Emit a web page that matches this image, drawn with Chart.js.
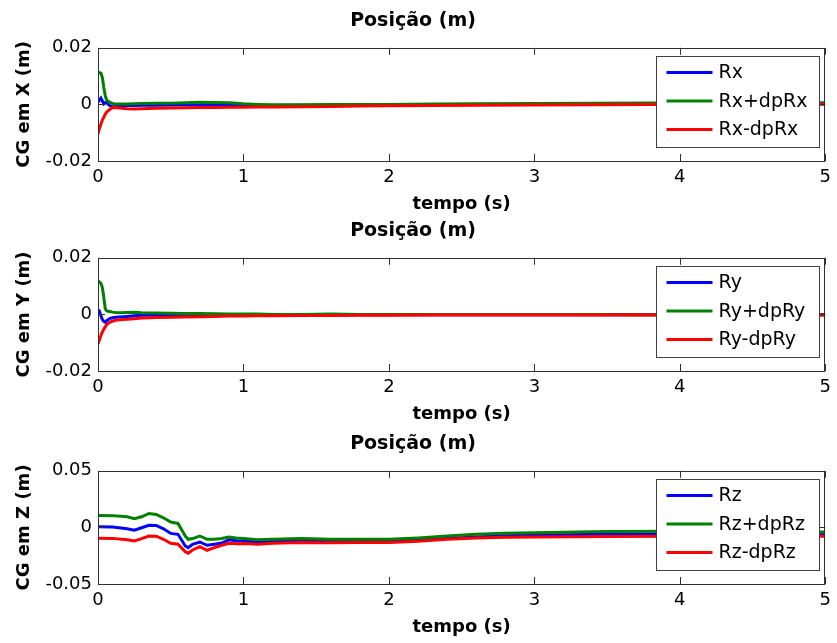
<!DOCTYPE html>
<html>
<head>
<meta charset="utf-8">
<script src="https://cdn.jsdelivr.net/npm/chart.js@4/dist/chart.umd.min.js"></script>
<style>
    body { margin: 0; background: #fff; }
    canvas { position: absolute; left: 0; }
</style>
</head>
<body>
<canvas id="chart-x" width="837" height="215" style="top:0px"></canvas>
<canvas id="chart-y" width="837" height="215" style="top:210px"></canvas>
<canvas id="chart-z" width="837" height="215" style="top:423px"></canvas>
<script>
// tempo (s)
const timeX = [0, 0.01, 0.02, 0.03, 0.04, 0.05, 0.06, 0.08, 0.1, 0.12, 0.15, 0.2, 0.25, 0.3, 0.4, 0.5, 0.6, 0.7, 0.8, 0.9, 1.0, 1.1, 1.2, 1.4, 1.6, 1.8, 2.0, 2.3, 2.6, 3.0, 3.4, 3.8, 4.2, 4.6, 5.0];
const rx = [0.0008, 0.0015, 0.0022, 0.0012, 0.0002, 0.0006, 0.0005, -0.0004, -0.0009, -0.0007, -0.0005, -0.0004, -0.0004, -0.0003, -0.0003, -0.0002, -0.0001, -0.0001, -0.0002, -0.0002, -0.0003, -0.0004, -0.0004, -0.0003, -0.0003, -0.0002, -0.0001, -0.0001, 0, 0, 0.0001, 0.0001, 0.0001, 0.0001, 0.0001];
const rxPlus = [0.0115, 0.0112, 0.011, 0.0095, 0.006, 0.003, 0.0015, 0.0008, 0.0003, 0.0001, 0.0001, 0.0001, 0.0002, 0.0003, 0.0004, 0.0004, 0.0006, 0.0008, 0.0007, 0.0006, 0.0002, 0, -0.0001, -0.0001, 0, 0, 0, 0.0001, 0.0002, 0.0003, 0.0004, 0.0005, 0.0005, 0.0005, 0.0006];
const rxMinus = [-0.0105, -0.0085, -0.007, -0.0055, -0.0045, -0.0035, -0.0027, -0.0018, -0.0012, -0.0011, -0.0013, -0.0015, -0.0016, -0.0015, -0.0014, -0.0013, -0.0012, -0.0011, -0.0011, -0.001, -0.001, -0.0009, -0.0009, -0.0008, -0.0007, -0.0006, -0.0005, -0.0004, -0.0003, -0.0002, -0.0001, 0, 0, 0, 0.0001];

const timeY = [0, 0.01, 0.02, 0.03, 0.04, 0.05, 0.06, 0.08, 0.1, 0.12, 0.15, 0.2, 0.25, 0.3, 0.4, 0.5, 0.6, 0.7, 0.8, 0.9, 1.0, 1.1, 1.2, 1.4, 1.6, 1.8, 2.0, 2.3, 2.6, 3.0, 3.4, 3.8, 4.2, 4.6, 5.0];
const ry = [0.0015, 0.0012, -0.0005, -0.0018, -0.0025, -0.0028, -0.0022, -0.0015, -0.0012, -0.001, -0.0009, -0.0007, -0.0005, -0.0003, -0.0002, -0.0002, -0.0001, -0.0001, 0, 0, 0, 0, 0, -0.0001, -0.0001, -0.0001, -0.0001, -0.0001, -0.0001, -0.0001, -0.0001, -0.0001, -0.0001, -0.0001, -0.0001];
const ryPlus = [0.0118, 0.0115, 0.011, 0.0095, 0.006, 0.002, 0.0012, 0.001, 0.0008, 0.0007, 0.0006, 0.0007, 0.0008, 0.0006, 0.0005, 0.0004, 0.0003, 0.0003, 0.0002, 0.0001, 0.0001, 0.0001, 0, 0, 0.0001, 0, 0, 0, 0, 0, 0, -0.0001, -0.0001, -0.0001, -0.0001];
const ryMinus = [-0.0105, -0.009, -0.0075, -0.0062, -0.0052, -0.0044, -0.0036, -0.0028, -0.0024, -0.0021, -0.0019, -0.0017, -0.0015, -0.0013, -0.0011, -0.001, -0.0009, -0.0008, -0.0007, -0.0006, -0.0006, -0.0005, -0.0005, -0.0004, -0.0004, -0.0003, -0.0003, -0.0002, -0.0002, -0.0002, -0.0002, -0.0002, -0.0002, -0.0002, -0.0002];

const timeZ = [0, 0.1, 0.2, 0.25, 0.3, 0.35, 0.4, 0.45, 0.5, 0.55, 0.6, 0.62, 0.65, 0.7, 0.75, 0.8, 0.85, 0.9, 0.95, 1.0, 1.1, 1.2, 1.4, 1.6, 1.8, 2.0, 2.2, 2.4, 2.6, 2.8, 3.0, 3.5, 4.0, 4.5, 5.0];
const rz = [0.0005, 0.0004, -0.0012, -0.0024, -0.0003, 0.0018, 0.0017, -0.0012, -0.0053, -0.0061, -0.0164, -0.0179, -0.0149, -0.0129, -0.0158, -0.0149, -0.0138, -0.011, -0.0118, -0.012, -0.013, -0.0122, -0.0117, -0.0118, -0.0117, -0.0117, -0.0105, -0.0097, -0.0085, -0.0073, -0.0068, -0.006, -0.0057, -0.0056, -0.0057];
const rzPlus = [0.0105, 0.0104, 0.0094, 0.0076, 0.0094, 0.0123, 0.0114, 0.0085, 0.0047, 0.0035, -0.0076, -0.0105, -0.0099, -0.0076, -0.0105, -0.0105, -0.0098, -0.0085, -0.0093, -0.0099, -0.011, -0.0104, -0.0099, -0.0105, -0.0104, -0.0105, -0.0093, -0.0076, -0.0061, -0.0052, -0.0048, -0.0036, -0.0034, -0.0038, -0.004];
const rzMinus = [-0.0096, -0.0097, -0.011, -0.012, -0.0099, -0.0076, -0.0078, -0.0105, -0.014, -0.0149, -0.0216, -0.0228, -0.0199, -0.017, -0.0202, -0.0178, -0.0158, -0.014, -0.0145, -0.0143, -0.0149, -0.014, -0.0134, -0.0135, -0.0133, -0.0134, -0.0123, -0.0105, -0.0093, -0.0088, -0.0085, -0.008, -0.0078, -0.0077, -0.0078];

const xTicks = [0, 1, 2, 3, 4, 5];
const yTicksXY = [-0.02, 0, 0.02];
const yTickLabelsXY = ["-0.02", "0", "0.02"];
const yTicksZ = [-0.05, 0, 0.05];
const yTickLabelsZ = ["-0.05", "0", "0.05"];

const colors = ["#0000ff", "#008000", "#ff0000"];
const font = "'DejaVu Sans', sans-serif";

const matlabBox = {
    id: "matlabBox",
    afterDatasetsDraw(chart) {
        const { ctx, chartArea: a, scales } = chart;
        ctx.save();
        ctx.strokeStyle = "#303030";
        ctx.lineWidth = 1;
        ctx.beginPath();
        scales.x.ticks.forEach((t) => {
            const px = Math.round(scales.x.getPixelForValue(t.value)) + 0.5;
            ctx.moveTo(px, a.bottom);
            ctx.lineTo(px, a.bottom - 7);
            ctx.moveTo(px, a.top);
            ctx.lineTo(px, a.top + 7);
        });
        scales.y.ticks.forEach((t) => {
            const py = Math.round(scales.y.getPixelForValue(t.value)) + 0.5;
            ctx.moveTo(a.left, py);
            ctx.lineTo(a.left + 7, py);
            ctx.moveTo(a.right, py);
            ctx.lineTo(a.right - 7, py);
        });
        ctx.stroke();
        ctx.strokeRect(Math.round(a.left) + 0.5, Math.round(a.top) + 0.5,
            Math.round(a.right - a.left) - 1, Math.round(a.bottom - a.top));

        // legend
        const w = 163, h = 91;
        const lx = Math.round(a.right) - 6 - w + 0.5;
        const ly = Math.round(a.top) + 8 + 0.5;
        ctx.fillStyle = "#fff";
        ctx.fillRect(lx, ly, w, h);
        ctx.strokeStyle = "#404040";
        ctx.strokeRect(lx, ly, w, h);
        ctx.font = "19px " + font;
        ctx.textBaseline = "middle";
        chart.data.datasets.forEach((ds, i) => {
            const y = ly + 16 + i * 28.5;
            ctx.strokeStyle = ds.borderColor;
            ctx.lineWidth = 3;
            ctx.beginPath();
            ctx.moveTo(lx + 10, y);
            ctx.lineTo(lx + 56, y);
            ctx.stroke();
            ctx.fillStyle = "#000";
            ctx.fillText(ds.label, lx + 62, y + 1);
        });
        ctx.restore();
    },
};

function makeChart(canvasId, time, series, names, yLabel, yTicks, yTickLabels) {
    const canvas = document.getElementById(canvasId);
    const lim = yTicks[yTicks.length - 1];

    return new Chart(canvas, {
        type: "line",
        data: {
            datasets: series.map((values, i) => ({
                label: names[i],
                data: time.map((t, j) => ({ x: t, y: values[j] })),
                borderColor: colors[i],
                borderWidth: 3,
                pointRadius: 0,
                tension: 0,
                order: 2 - i,
            })),
        },
        options: {
            responsive: false,
            animation: false,
            layout: { padding: { left: 0, right: 11, top: 0, bottom: 0 } },
            plugins: {
                legend: { display: false },
                tooltip: { enabled: false },
                title: {
                    display: true,
                    text: "Posição (m)",
                    color: "#000",
                    font: { family: font, size: 19, weight: "bold", lineHeight: 1.2 },
                    padding: { top: 10, bottom: 15 },
                },
            },
            scales: {
                x: {
                    type: "linear",
                    min: 0,
                    max: 5,
                    afterBuildTicks(scale) {
                        scale.ticks = xTicks.map((v) => ({ value: v }));
                    },
                    afterFit(scale) {
                        scale.height = 54;
                    },
                    grid: { display: false, drawTicks: false, tickLength: 0 },
                    border: { display: false },
                    ticks: {
                        color: "#000",
                        padding: 6,
                        maxRotation: 0,
                        font: { family: font, size: 18 },
                        callback: (v) => String(v),
                    },
                    title: {
                        display: true,
                        text: "tempo (s)",
                        color: "#000",
                        font: { family: font, size: 18, weight: "bold", lineHeight: 1.2 },
                        padding: { top: 0, bottom: 0 },
                    },
                },
                y: {
                    min: -lim,
                    max: lim,
                    afterBuildTicks(scale) {
                        scale.ticks = yTicks.map((v) => ({ value: v }));
                    },
                    afterFit(scale) {
                        scale.width = 98;
                    },
                    grid: { display: false, drawTicks: false, tickLength: 0 },
                    border: { display: false },
                    ticks: {
                        color: "#000",
                        padding: 6,
                        font: { family: font, size: 18 },
                        callback: (v) => yTickLabels[yTicks.indexOf(v)] ?? "",
                    },
                    title: {
                        display: true,
                        text: yLabel,
                        color: "#000",
                        font: { family: font, size: 18, weight: "bold", lineHeight: 1.2 },
                        padding: { top: 14, bottom: 0 },
                    },
                },
            },
        },
        plugins: [matlabBox],
    });
}

makeChart("chart-x", timeX, [rx, rxPlus, rxMinus], ["Rx", "Rx+dpRx", "Rx-dpRx"], "CG em X (m)", yTicksXY, yTickLabelsXY);
makeChart("chart-y", timeY, [ry, ryPlus, ryMinus], ["Ry", "Ry+dpRy", "Ry-dpRy"], "CG em Y (m)", yTicksXY, yTickLabelsXY);
makeChart("chart-z", timeZ, [rz, rzPlus, rzMinus], ["Rz", "Rz+dpRz", "Rz-dpRz"], "CG em Z (m)", yTicksZ, yTickLabelsZ);
</script>
</body>
</html>
